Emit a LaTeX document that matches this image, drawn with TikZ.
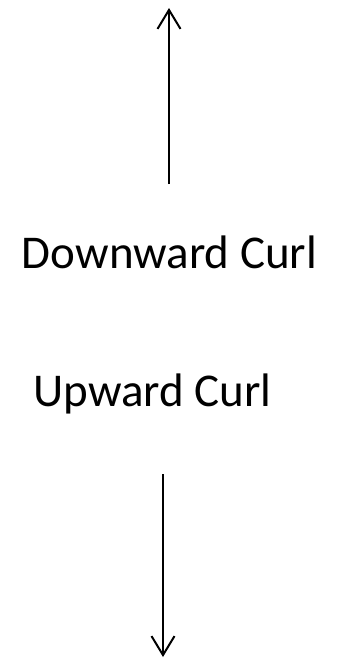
\documentclass[tikz,border=0pt]{standalone}
\usepackage{fontspec}
\setmainfont{Carlito}
\usetikzlibrary{arrows.meta}
\begin{document}
\begin{tikzpicture}[x=1pt,y=-1pt,
  lbl/.style={anchor=base, inner sep=0pt, font=\fontsize{47}{56}\selectfont},
  arr/.style={line width=2pt, -{Straight Barb[length=19pt,width=23pt,line width=2pt]}}]
\useasboundingbox (0,0) rectangle (347,661);
\node[lbl] (down) at (169.5,268) {Downward Curl};
\node[lbl] (up) at (152.5,406) {Upward Curl};
\coordinate (a1s) at (169,184);
\coordinate (a1e) at (169,8);
\coordinate (a2s) at (163,474);
\coordinate (a2e) at (163,657);
\draw[arr] (a1s) -- (a1e);
\draw[arr] (a2s) -- (a2e);
\end{tikzpicture}
\end{document}
